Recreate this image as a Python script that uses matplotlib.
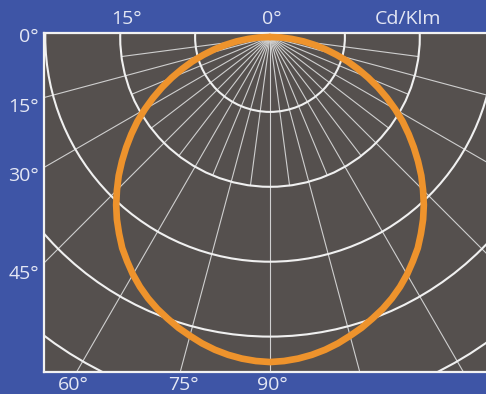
import numpy as np
import matplotlib
matplotlib.use("Agg")
import matplotlib.pyplot as plt
from matplotlib.patches import Circle

# ---- data (cd/klm) ----
angles_deg = [0, 2.5, 5, 7.5, 10, 12.5, 15, 17.5, 20, 22.5, 25, 27.5, 30, 32.5, 35, 37.5,
              40, 42.5, 45, 47.5, 50, 52.5, 55, 57.5, 60, 62.5, 65, 67.5, 70, 72.5, 75,
              77.5, 80, 82.5, 85, 87.5, 90]
intensity = [434, 433, 431, 428, 424, 419, 413, 407, 400, 393, 385, 376, 366, 355, 344, 331,
             318, 304, 289, 274, 258, 242, 226, 210, 193, 176, 159, 142, 125, 109, 92,
             76, 60, 45, 29, 15, 0]
ring_values = [100, 200, 300, 400, 500]
main_spokes = [0, 15, 30, 45, 60, 75]
minor_spokes = [7.5, 22.5, 37.5, 52.5, 67.5, 82.5]
left_labels = ["0°", "15°", "30°", "45°"]
bottom_labels = ["60°", "75°", "90°"]
top_labels = ["15°", "0°"]
unit_label = "Cd/Klm"

BLUE = "#3E55A6"
GRAY = "#55504E"
ORANGE = "#EE932C"
TXT = "#E4E7F4"

W, H = 486, 394
fig = plt.figure(figsize=(W / 100, H / 100), dpi=100, facecolor=BLUE)

# axes geometry in pixels
ax_l, ax_r, ax_t, ax_b = 44, 486, 33, 372
cx, cy = 270, 37          # pole position (px)
s = 0.749                 # px per cd/klm unit

ax = fig.add_axes([ax_l / W, (H - ax_b) / H, (ax_r - ax_l) / W, (ax_b - ax_t) / H])
ax.set_facecolor(GRAY)
ax.set_xlim((ax_l - cx) / s, (ax_r - cx) / s)
ax.set_ylim(-(ax_b - cy) / s, (cy - ax_t) / s)
ax.set_xticks([])
ax.set_yticks([])
for side in ["left", "top", "bottom"]:
    ax.spines[side].set_color("#F2F2F2")
    ax.spines[side].set_linewidth(1.6)
ax.spines["right"].set_visible(False)

# rings
for rv in ring_values:
    ax.add_patch(Circle((0, 0), rv, fill=False, ec="#F0F0F0", lw=1.5, zorder=2))

# spokes
for a in main_spokes:
    for sg in ([1] if a == 0 else [-1, 1]):
        t = np.radians(sg * a)
        ax.plot([0, 900 * np.sin(t)], [0, -900 * np.cos(t)], color="#CFCFCF", lw=0.8, zorder=1)
for a in minor_spokes:
    for sg in [-1, 1]:
        t = np.radians(sg * a)
        ax.plot([0, 200 * np.sin(t)], [0, -200 * np.cos(t)], color="#CFCFCF", lw=0.8, zorder=1)

# photometric curve (symmetric)
th = np.radians(np.array([-a for a in angles_deg[::-1]] + angles_deg[1:]))
rr = np.array(intensity[::-1] + intensity[1:])
ax.plot(rr * np.sin(th), -rr * np.cos(th), color=ORANGE, lw=4.8, solid_capstyle="round",
        solid_joinstyle="round", zorder=3, clip_on=False)

# labels (figure pixel coords)
def ftext(x, y, s_, ha="center"):
    fig.text(x / W, 1 - y / H, s_, color=TXT, fontsize=14, ha=ha, va="center",
             family="Open Sans")

for lab, y in zip(left_labels, [37, 107, 176, 274]):
    ftext(39, y, lab, ha="right")
for lab, x in zip(bottom_labels, [73, 183, 272]):
    ftext(x, 385, lab)
for lab, x in zip(top_labels, [126, 272]):
    ftext(x, 19, lab)
ftext(408, 19, unit_label)

fig.savefig("out.png", dpi=100, facecolor=BLUE)
